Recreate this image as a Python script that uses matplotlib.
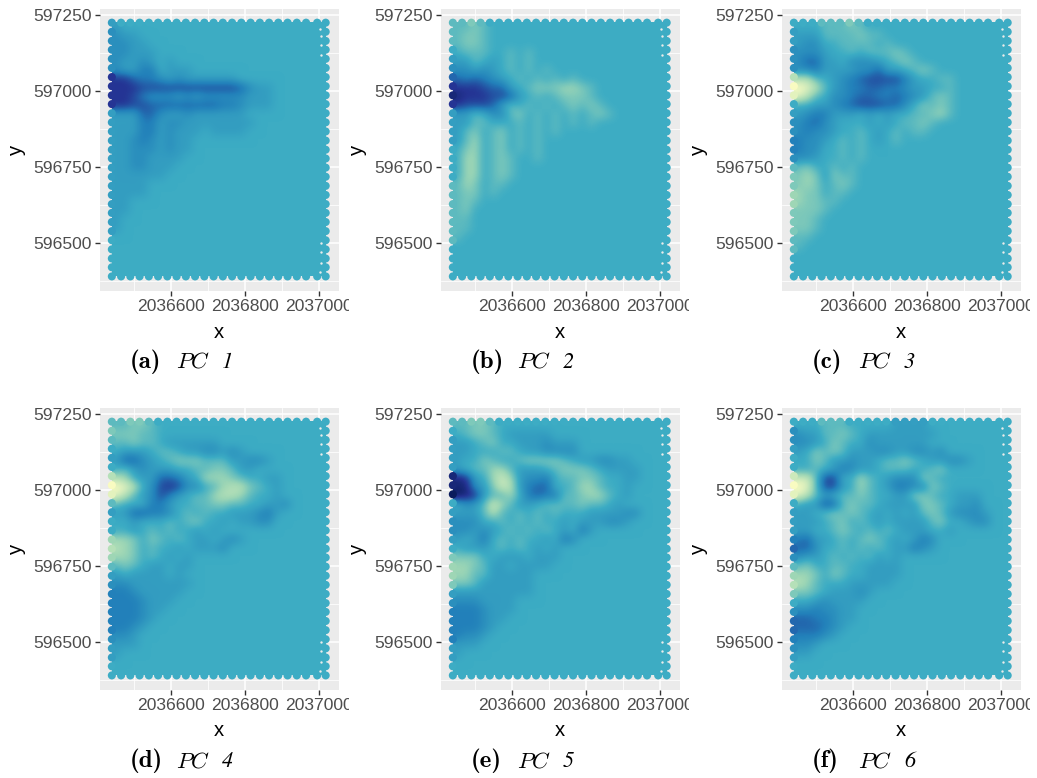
import numpy as np
import matplotlib
matplotlib.use('Agg')
import matplotlib.pyplot as plt
from matplotlib.colors import LinearSegmentedColormap
from matplotlib.font_manager import FontProperties
from matplotlib.transforms import Bbox
import os

# lattice of the sampled locations
grid_x = [2036440, 2036465, 2036490, 2036515, 2036540, 2036565, 2036590, 2036615,
          2036640, 2036665, 2036690, 2036715, 2036740, 2036765, 2036790, 2036815,
          2036840, 2036865, 2036890, 2036915, 2036940, 2036965, 2036995, 2037018]
grid_y = [597225, 597195, 597165, 597136, 597106, 597076, 597046, 597016, 596986,
          596957, 596927, 596897, 596867, 596837, 596807, 596778, 596748, 596718,
          596688, 596658, 596628, 596599, 596569, 596539, 596509, 596479, 596449,
          596420, 596390]

# small gaps beside the last column of the lattice
gap_x = [2037003, 2037005, 2037004, 2037005, 2037004, 2037005, 2037004, 2037003]
gap_y = [597205, 597180, 597150, 597120, 596500, 596470, 596435, 596405]

x_ticks = [2036600, 2036800, 2037000]
y_ticks = [596500, 596750, 597000, 597250]
x_minor = [2036500, 2036700, 2036900]
y_minor = [596375, 596625, 596875, 597125]

# loading levels, hex digit per cell, 8 is the background level
# short rows carry on at level 8
pc1 = ["788", "677", "6677", "66777", "677678788", "677558777",
       "224556767777778", "222333333333334677", "223566676766666777",
       "223344444444556777", "777446776777777", "7775576677777777",
       "777557677787777", "776567677", "776667677", "77667777", "7766777",
       "777777", "7777", "7777", "77", "77", "78", "78", "8", "8", "8", "8", "8"]
pc2 = ["99a98", "9aa98", "9aa98", "8999889898", "7798789898", "667678989898",
       "45456789898989", "222344789aaabba9", "122233478989aaa98", "2333479898989a9a9",
       "7798669a89898989a9", "77998889898989898", "79a89a8989898",
       "79b89a898988", "8ab89a898988", "8bb89a9889", "8bb89a9888", "8bb89a98",
       "9ba8998", "9aa898", "9a98", "9a88", "998", "99", "98", "88", "8", "8", "8"]
pc3 = ["888999a9", "7779999a99", "76688999989", "66678898999a98", "644778666789a98",
       "66577776647789a98", "cc98765433335788998", "fec976554455677889",
       "ec98665445545679a9", "88776543334468a9a98", "765577787878899ab98",
       "65467888787899a98", "656678898789899", "566789898789", "566889898",
       "6678898988", "9a889898", "aba7a998", "aba89a98", "baa8998", "baa998",
       "aaa98", "aa98", "aa98", "99", "98", "88", "8", "8"]
pc4 = ["99aa9", "aaa99", "99a9987777778", "8777899877667678", "7446789aaa99977667",
       "89767778899aa977", "cb87744578bbba98877", "fec863236689bcca987",
       "ec976357899bccb9887", "98885578899aa9988776", "7744556898988777657",
       "887888989a88787766", "8878989887878", "bba8a9898778767",
       "cba8988787776", "bba8987878", "9a9877877", "78777787",
       "66777777788", "5567777788", "55567778", "5556778", "555678", "5567", "6678",
       "7778", "788", "8", "8"]
pc5 = ["99aa9", "89aa9877777", "7789a8877767778", "7788899877666688", "788a9889aaaa98776677",
       "7899bb977789aaa987777", "1278bdb7665899aa98877", "1167adc7544889bb9887",
       "012799b8545599abb987", "8679db97789999a9987", "7779c9898989888777766",
       "66688989898878777667", "66767898989878578", "78758989887856",
       "877789898787", "aaa8877787778", "bba9778777788", "bb997777788",
       "aa977777788", "7777777778", "66677778", "55567778", "5556778", "555678",
       "5667", "7778", "78", "8", "8"]
pc6 = ["888999888887777", "67799a9877777777", "6678a9886777777", "78a9a977766776676",
       "88a977677899a9877667", "8898756778999889a88", "dd93388b987666a98",
       "fe93378b9875566a98", "ec97899a98877aa988777", "877349a9987777aa98776",
       "7789a9a98787879a976667", "77789a8987877779a88766", "77889a9898987778878",
       "54778989a987875688", "4468898989877567", "6778989897878", "9a8899887777",
       "bba8a98877778", "cb988877777", "aa9877767", "887677778", "66566778", "44556778",
       "4445678", "55567", "6678", "778", "88", "8"]

panels = [pc1, pc2, pc3, pc4, pc5, pc6]
letters = ['a', 'b', 'c', 'd', 'e', 'f']
pc_names = ['1', '2', '3', '4', '5', '6']

# pixel boxes of the panels on the 1037x778 page
W, H = 1037, 778
lefts = [100, 441, 782]
tops = [9, 408]
clip_right = [349, 689, 1030]

cmap = LinearSegmentedColormap.from_list('ylgnbu', [
    (0 / 16, '#0a1c5c'), (2 / 16, '#253494'), (5 / 16, '#2280ba'),
    (8 / 16, '#3cacc4'), (11 / 16, '#9dd6b5'), (15 / 16, '#f9fbc0'), (1, '#ffffcc')])

cm_bold = FontProperties(fname=os.path.join(matplotlib.get_data_path(), 'fonts/ttf/cmb10.ttf'))


def to_levels(rows):
    return np.array([[int(c, 16) for c in r.ljust(len(grid_x), '8')] for r in rows], dtype=float)


def draw_panel(ax, rows, clip_px):
    ax.set_facecolor('#EBEBEB')
    z = to_levels(rows)
    gx, gy = np.meshgrid(grid_x, grid_y)
    style = dict(cmap=cmap, vmin=0, vmax=16)

    ax.imshow(z, extent=(grid_x[0], grid_x[-1], grid_y[-1], grid_y[0]), aspect='auto',
              interpolation='bicubic', zorder=3, **style)

    edge = np.zeros(z.shape, dtype=bool)
    edge[0, :-1] = edge[-1, :-1] = True
    edge[:, 0] = edge[:, -1] = True
    ax.scatter(gx[edge], gy[edge], c=z[edge], s=34, linewidths=0, zorder=4, **style)
    ax.scatter(gap_x, gap_y, color='#EBEBEB', s=3, linewidths=0, zorder=5)

    ax.set_xlim(2036408, 2037054)
    ax.set_ylim(596342, 597270)
    ax.set_xticks(x_ticks)
    ax.set_yticks(y_ticks)
    ax.set_xticks(x_minor, minor=True)
    ax.set_yticks(y_minor, minor=True)
    ax.set_xticklabels([str(v) for v in x_ticks])
    ax.set_yticklabels([str(v) for v in y_ticks])
    ax.grid(True, which='major', color='white', linewidth=1.1, zorder=1)
    ax.grid(True, which='minor', color='white', linewidth=0.55, zorder=1)
    ax.set_axisbelow(True)
    ax.tick_params(which='major', length=3.4, width=1.0, color='#333333',
                   labelcolor='#4D4D4D', labelsize=12.6, pad=2.4)
    ax.tick_params(which='minor', length=0)
    for s in ax.spines.values():
        s.set_visible(False)
    # long x labels get cut at the edge of the sub figure
    for lab in ax.get_xticklabels():
        lab.set_clip_on(True)
        lab.set_clip_box(Bbox([[clip_px - 345, 0], [clip_px, H]]))


plt.rcParams['font.family'] = ['Liberation Sans', 'DejaVu Sans']
plt.rcParams['mathtext.fontset'] = 'cm'

fig = plt.figure(figsize=(W / 100, H / 100), dpi=100)
for i, rows in enumerate(panels):
    r, c = i // 3, i % 3
    left, top = lefts[c], tops[r]
    ax = fig.add_axes([left / W, 1 - (top + 282) / H, 239 / W, 282 / H])
    draw_panel(ax, rows, clip_right[c])
    fig.text((left + 119) / W, 1 - (top + 323) / H, 'x', fontsize=14.6, color='black',
             ha='center', va='center')
    fig.text((left - 84) / W, 1 - (top + 141) / H, 'y', fontsize=14.6, color='black',
             rotation=90, ha='center', va='center')
    # caption: bold letter, italic PC and number
    cap_y = 1 - (top + 359) / H
    fig.text((left + 30) / W, cap_y, '(%s)' % letters[i], fontproperties=cm_bold, fontsize=18,
             color='black', ha='left', va='baseline')
    fig.text((left + 76) / W, cap_y, r'$\mathit{PC}$', fontsize=16.5, color='black',
             ha='left', va='baseline')
    fig.text((left + 122) / W, cap_y, pc_names[i], family='STIXGeneral', style='italic',
             fontsize=16, color='black', ha='left', va='baseline')

fig.savefig('out.png', dpi=100)
